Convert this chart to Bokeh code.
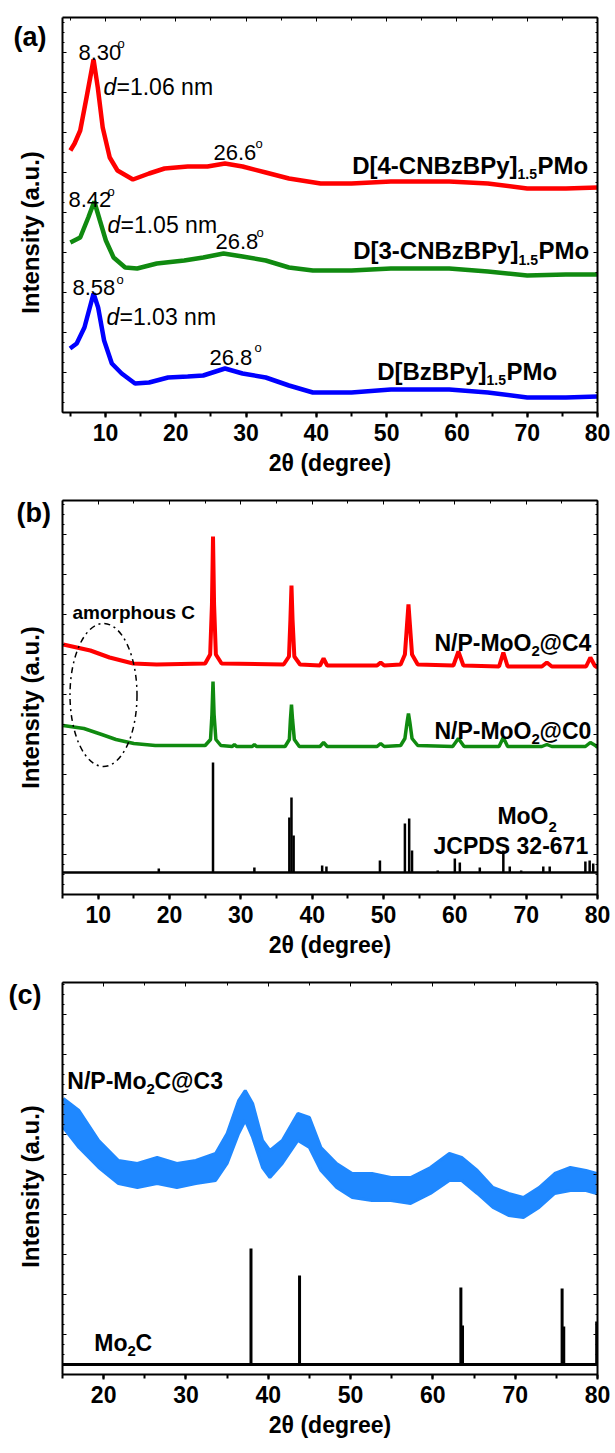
import math
from bokeh.plotting import figure
from bokeh.models import Range1d, LinearAxis, SingleIntervalTicker, Label, CustomJSTickFormatter, Plot
from bokeh.layouts import column, row
from bokeh.embed import file_html
from bokeh.resources import INLINE

FONT = "Liberation Sans"

# ---------------- Panel (a) data ----------------
a_red_x = [5.0, 5.6, 6.4, 7.3, 8.3, 8.9, 9.6, 10.6, 11.7, 13.9, 16.2, 18.4, 21.7, 24.5, 27.0, 29.5, 32.8, 36.1, 40.6, 45.0, 50.6, 58.9, 64.4, 70.0, 75.5, 80.0]
a_red_y = [262, 269, 282, 315, 353, 325, 285, 255, 242, 233, 239, 244, 246, 246, 249, 246, 240, 234, 229, 229, 231, 231, 229, 224, 224, 225]

a_grn_x = [5.0, 6.4, 7.55, 8.4, 9.2, 10.05, 11.15, 12.8, 14.5, 17.3, 21.2, 23.9, 26.8, 29.5, 32.8, 36.1, 39.5, 45.0, 50.6, 58.9, 64.4, 70.0, 75.5, 80.0]
a_grn_y = [170, 175, 195, 211, 192, 172, 155, 145, 144, 149, 152, 155, 159, 156, 152, 145, 142, 142, 144, 144, 141, 137, 138, 138]

a_blu_x = [4.95, 5.9, 7.0, 8.3, 8.95, 9.8, 10.9, 12.3, 14.2, 16.2, 18.9, 21.7, 23.9, 27.0, 29.5, 32.8, 36.1, 39.5, 45.0, 50.6, 58.9, 64.4, 70.0, 75.5, 80.0]
a_blu_y = [64, 69, 85, 119, 105, 72, 49, 39, 29, 30, 35, 36, 37, 44, 39, 35, 27, 20, 20, 23, 23, 20, 15, 15, 16]

# ---------------- Panel (b) data ----------------
b_red_x = [5.1, 8.9, 11.6, 14.9, 18.2, 25.0, 25.7, 25.95, 26.1, 26.25, 26.5, 27.3,
           36.0, 36.75, 36.95, 37.1, 37.25, 37.5, 38.3,
           41.1, 41.6, 42.1, 49.1, 49.6, 50.1,
           52.4, 53.0, 53.3, 53.5, 53.7, 54.0, 54.8,
           59.8, 60.5, 61.2, 66.2, 66.8, 67.4, 72.2, 72.9, 73.6, 78.4, 79.0, 79.6, 80.0]
b_red_y = [250, 244, 237, 231, 230, 231, 240, 290, 358, 290, 240, 231,
           230, 238, 275, 309, 275, 238, 230,
           229, 236, 229, 229, 232, 229,
           230, 240, 270, 290, 270, 240, 230,
           229, 243, 229, 228, 242, 228, 228, 232, 228, 228, 237, 229, 227]

b_grn_x = [5.1, 8.0, 10.5, 12.5, 15.0, 18.0, 25.0, 25.75, 25.95, 26.1, 26.25, 26.5, 27.2,
           28.8, 29.1, 29.4, 31.6, 31.9, 32.2,
           36.2, 36.8, 36.95, 37.1, 37.25, 37.5, 38.2,
           41.1, 41.6, 42.1, 49.1, 49.6, 50.1,
           52.4, 53.0, 53.3, 53.5, 53.7, 54.0, 54.8,
           59.7, 60.5, 61.3, 66.2, 66.8, 67.4, 72.2, 72.9, 73.6, 78.3, 79.0, 79.7, 80.0]
b_grn_y = [169, 166, 160, 155, 151, 149, 149, 155, 180, 213, 180, 155, 149,
           148, 150, 148, 148, 150, 148,
           148, 155, 175, 190, 175, 155, 148,
           148, 152, 148, 148, 151, 148,
           149, 156, 172, 181, 172, 156, 149,
           148, 156, 148, 148, 157, 148, 148, 150, 148, 148, 152, 149, 147]

b_ref_base = 22
b_ref_pos = [18.5, 26.1, 31.9, 36.8, 37.1, 37.4, 41.4, 42.0, 49.5, 53.0, 53.6, 54.0, 57.6, 60.0, 60.7, 63.5, 66.8, 67.7, 69.3, 72.4, 73.3, 78.3, 78.9, 79.4]
b_ref_top = [26, 132, 27, 77, 97, 59, 29, 28, 34, 71, 76, 44, 24, 36, 32, 27, 44, 28, 24, 28, 28, 33, 34, 31]

# ---------------- Panel (c) data ----------------
c_blu_x = [15.1, 17.0, 19.4, 21.8, 24.1, 26.5, 28.9, 31.2, 33.6, 35.0, 36.4, 37.2, 38.1, 39.3, 40.2, 41.7,
           43.6, 45.0, 46.4, 48.3, 50.2, 52.6, 54.9, 57.3, 59.7, 62.0, 63.5, 65.4, 67.3, 69.2, 71.0, 72.9,
           74.8, 76.7, 78.6, 79.9]
c_blu_hi = [276, 264, 234, 214, 211, 217, 211, 214, 221, 241, 274, 284, 271, 234, 224, 234,
            261, 257, 227, 211, 201, 201, 197, 197, 207, 221, 217, 204, 187, 181, 177, 187,
            201, 207, 204, 201]
c_blu_lo = [247, 227, 207, 191, 187, 191, 187, 191, 194, 211, 241, 254, 237, 207, 197, 211,
            234, 227, 204, 187, 177, 174, 174, 171, 181, 194, 194, 181, 167, 159, 157, 167,
            181, 184, 184, 181]

c_ref_base = 10
c_ref_pos = [37.9, 43.8, 63.4, 63.6, 75.7, 75.9, 79.9]
c_ref_top = [126, 99, 87, 49, 86, 48, 53]

X_TITLE = "2θ (degree)"
Y_TITLE = "Intensity (a.u.)"

SIDE_W = 52
SIDE_OFF = 16
FRAME_L = 62
FRAME_R = 597


def make_fig(xr, top_px, bottom_px, fig_top, fig_h):
    frame_h = bottom_px - top_px
    p = figure(width=615 - SIDE_W, height=fig_h, x_range=Range1d(*xr), y_range=Range1d(0, frame_h),
               output_backend="svg", toolbar_location=None,
               min_border_left=FRAME_L - SIDE_W, min_border_right=615 - FRAME_R,
               min_border_top=top_px - fig_top, min_border_bottom=fig_top + fig_h - bottom_px)
    p.grid.visible = False
    p.outline_line_color = None
    p.background_fill_color = "white"
    p.border_fill_color = "white"
    xa = p.xaxis[0]
    xa.ticker = SingleIntervalTicker(interval=10, num_minor_ticks=2)
    xa.axis_label = X_TITLE
    xa.axis_label_text_font = FONT
    xa.axis_label_text_font_style = "bold"
    xa.axis_label_text_font_size = "23px"
    xa.axis_label_text_color = "black"
    xa.axis_label_standoff = 6
    xa.major_label_text_font = FONT
    xa.major_label_text_font_style = "bold"
    xa.major_label_text_font_size = "23px"
    xa.major_label_text_color = "black"
    xa.major_label_standoff = 6
    xa.major_tick_out = 5
    xa.major_tick_in = 0
    xa.minor_tick_out = 4
    xa.minor_tick_in = 0
    xa.axis_line_width = 2
    xa.major_tick_line_width = 2
    xa.minor_tick_line_width = 2
    ya = p.yaxis[0]
    ya.ticker = SingleIntervalTicker(interval=40, num_minor_ticks=4)
    ya.formatter = CustomJSTickFormatter(code="return ''")
    ya.major_label_standoff = 0
    ya.major_tick_in = 4
    ya.major_tick_out = 0
    ya.minor_tick_in = 2
    ya.minor_tick_out = 0
    ya.axis_line_width = 2
    top = LinearAxis(ticker=SingleIntervalTicker(interval=10, num_minor_ticks=2),
                     formatter=CustomJSTickFormatter(code="return ''"),
                     major_label_standoff=0, major_tick_in=4, major_tick_out=0,
                     minor_tick_in=3, minor_tick_out=0, axis_line_width=2)
    right = LinearAxis(ticker=SingleIntervalTicker(interval=40, num_minor_ticks=4),
                       formatter=CustomJSTickFormatter(code="return ''"),
                       major_label_standoff=0, major_tick_in=4, major_tick_out=0,
                       minor_tick_in=2, minor_tick_out=0, axis_line_width=2)
    p.add_layout(top, "above")
    p.add_layout(right, "right")
    return p


def make_side(fig_h):
    s = Plot(width=SIDE_W, height=fig_h, frame_width=SIDE_W, frame_height=fig_h,
             x_range=Range1d(0, SIDE_W), y_range=Range1d(0, fig_h),
             output_backend="svg", toolbar_location=None, title=None,
             min_border=0, min_border_left=0, min_border_right=0,
             min_border_top=0, min_border_bottom=0,
             outline_line_color=None, background_fill_color="white", border_fill_color="white")
    return s


def style_of(bold, italic):
    if bold and italic:
        return "bold italic"
    if bold:
        return "bold"
    if italic:
        return "italic"
    return "normal"


def txt(p, geo, px, py, text, size, bold=False, italic=False, align="left",
        baseline="alphabetic", color="black"):
    x0, scale, ybot = geo
    p.add_layout(Label(x=x0 + (px - FRAME_L) / scale, y=ybot - py, text=text,
                       text_font=FONT, text_font_size=f"{size}px",
                       text_font_style=style_of(bold, italic),
                       text_align=align, text_baseline=baseline, text_color=color))


def side_txt(s, fig_top, fig_h, px, py, text, size, bold=True, align="left",
             baseline="alphabetic", angle=0.0):
    s.add_layout(Label(x=px, y=fig_h - (py - fig_top) + SIDE_OFF, text=text,
                       text_font=FONT, text_font_size=f"{size}px",
                       text_font_style=style_of(bold, False),
                       text_align=align, text_baseline=baseline, angle=angle,
                       text_color="black"))


# ---------------- Panel (a) ----------------
pa = make_fig((3.88, 80), 17, 412, 0, 490)
sa = make_side(490)
ga = (3.88, (FRAME_R - FRAME_L) / (80 - 3.88), 412)
pa.line(a_red_x, a_red_y, line_color="#ff0000", line_width=4.5)
pa.line(a_grn_x, a_grn_y, line_color="#108a10", line_width=4.5)
pa.line(a_blu_x, a_blu_y, line_color="#0000ff", line_width=4.5)

side_txt(sa, 0, 490, 13, 35, "(a)", 27)
side_txt(sa, 0, 490, 30, 231, Y_TITLE, 24, align="center", baseline="middle", angle=math.pi / 2)
# red annotations
txt(pa, ga, 78, 52, "8.30", 22)
txt(pa, ga, 117, 43, "o", 13)
txt(pa, ga, 103, 86, "d", 23, italic=True)
txt(pa, ga, 116, 86, "=1.06 nm", 23)
txt(pa, ga, 213, 152, "26.6", 22)
txt(pa, ga, 255, 143, "o", 13)
txt(pa, ga, 517, 165, "D[4-CNBzBPy]", 24, bold=True, align="right")
txt(pa, ga, 517, 173, "1.5", 14, bold=True)
txt(pa, ga, 537, 165, "PMo", 24, bold=True)
# green annotations
txt(pa, ga, 68, 199, "8.42", 22)
txt(pa, ga, 107, 191, "o", 13)
txt(pa, ga, 107, 224, "d", 23, italic=True)
txt(pa, ga, 120, 224, "=1.05 nm", 23)
txt(pa, ga, 215, 241, "26.8", 22)
txt(pa, ga, 256, 232, "o", 13)
txt(pa, ga, 518, 250, "D[3-CNBzBPy]", 24, bold=True, align="right")
txt(pa, ga, 518, 259, "1.5", 14, bold=True)
txt(pa, ga, 538, 250, "PMo", 24, bold=True)
# blue annotations
txt(pa, ga, 72, 287, "8.58", 22)
txt(pa, ga, 116, 279, "o", 13)
txt(pa, ga, 106, 316, "d", 23, italic=True)
txt(pa, ga, 119, 316, "=1.03 nm", 23)
txt(pa, ga, 209, 357, "26.8", 22)
txt(pa, ga, 254, 347, "o", 13)
txt(pa, ga, 486, 371, "D[BzBPy]", 24, bold=True, align="right")
txt(pa, ga, 486, 379, "1.5", 14, bold=True)
txt(pa, ga, 506, 371, "PMo", 24, bold=True)

# ---------------- Panel (b) ----------------
pb = make_fig((5, 80), 500, 894, 490, 485)
sb = make_side(485)
gb = (5, (FRAME_R - FRAME_L) / 75.0, 894)
pb.line(b_red_x, b_red_y, line_color="#ff0000", line_width=4)
pb.line(b_grn_x, b_grn_y, line_color="#108a10", line_width=3.5)
pb.line([5, 80], [b_ref_base, b_ref_base], line_color="black", line_width=2.5)
pb.segment(x0=b_ref_pos, y0=[b_ref_base] * len(b_ref_pos), x1=b_ref_pos, y1=b_ref_top,
           line_color="black", line_width=2.5)
pb.ellipse(x=[5 + (103 - FRAME_L) / gb[1]], y=[894 - 694.5], width=[67 / gb[1]], height=[143],
           fill_color=None, line_color="black", line_width=1.5, line_dash="dashdot")

side_txt(sb, 490, 485, 16, 518, "(b)", 27)
side_txt(sb, 490, 485, 30, 713, Y_TITLE, 24, align="center", baseline="middle", angle=math.pi / 2)
txt(pb, gb, 72, 612, "amorphous C", 19, bold=True)
txt(pb, gb, 531, 642, "N/P-MoO", 23, bold=True, align="right")
txt(pb, gb, 531, 650, "2", 15, bold=True)
txt(pb, gb, 539, 642, "@C4", 23, bold=True)
txt(pb, gb, 531, 730, "N/P-MoO", 23, bold=True, align="right")
txt(pb, gb, 531, 738, "2", 15, bold=True)
txt(pb, gb, 539, 730, "@C0", 23, bold=True)
txt(pb, gb, 548, 815, "MoO", 23, bold=True, align="right")
txt(pb, gb, 548, 826, "2", 15, bold=True)
txt(pb, gb, 433, 845, "JCPDS 32-671", 23, bold=True)

# ---------------- Panel (c) ----------------
pc = make_fig((15, 80), 982, 1374, 975, 478)
sc = make_side(478)
gc = (15, (FRAME_R - FRAME_L) / 65.0, 1374)
pc.varea(x=c_blu_x, y1=c_blu_lo, y2=c_blu_hi, fill_color="#1f88ff")
pc.line(c_blu_x, c_blu_hi, line_color="#1f88ff", line_width=3)
pc.line(c_blu_x, c_blu_lo, line_color="#1f88ff", line_width=3)
pc.line([15, 80], [c_ref_base, c_ref_base], line_color="black", line_width=3)
pc.segment(x0=c_ref_pos, y0=[c_ref_base] * len(c_ref_pos), x1=c_ref_pos, y1=c_ref_top,
           line_color="black", line_width=3)

side_txt(sc, 975, 478, 8, 1003, "(c)", 27)
side_txt(sc, 975, 478, 30, 1195, Y_TITLE, 24, align="center", baseline="middle", angle=math.pi / 2)
txt(pc, gc, 146, 1080, "N/P-Mo", 23, bold=True, align="right")
txt(pc, gc, 146, 1088, "2", 15, bold=True)
txt(pc, gc, 154, 1080, "C@C3", 23, bold=True)
txt(pc, gc, 127, 1342, "Mo", 23, bold=True, align="right")
txt(pc, gc, 127, 1350, "2", 15, bold=True)
txt(pc, gc, 135, 1342, "C", 23, bold=True)

layout = column(row(sa, pa, spacing=0), row(sb, pb, spacing=0), row(sc, pc, spacing=0), spacing=0)
open("out.html", "w").write(file_html(layout, INLINE))
